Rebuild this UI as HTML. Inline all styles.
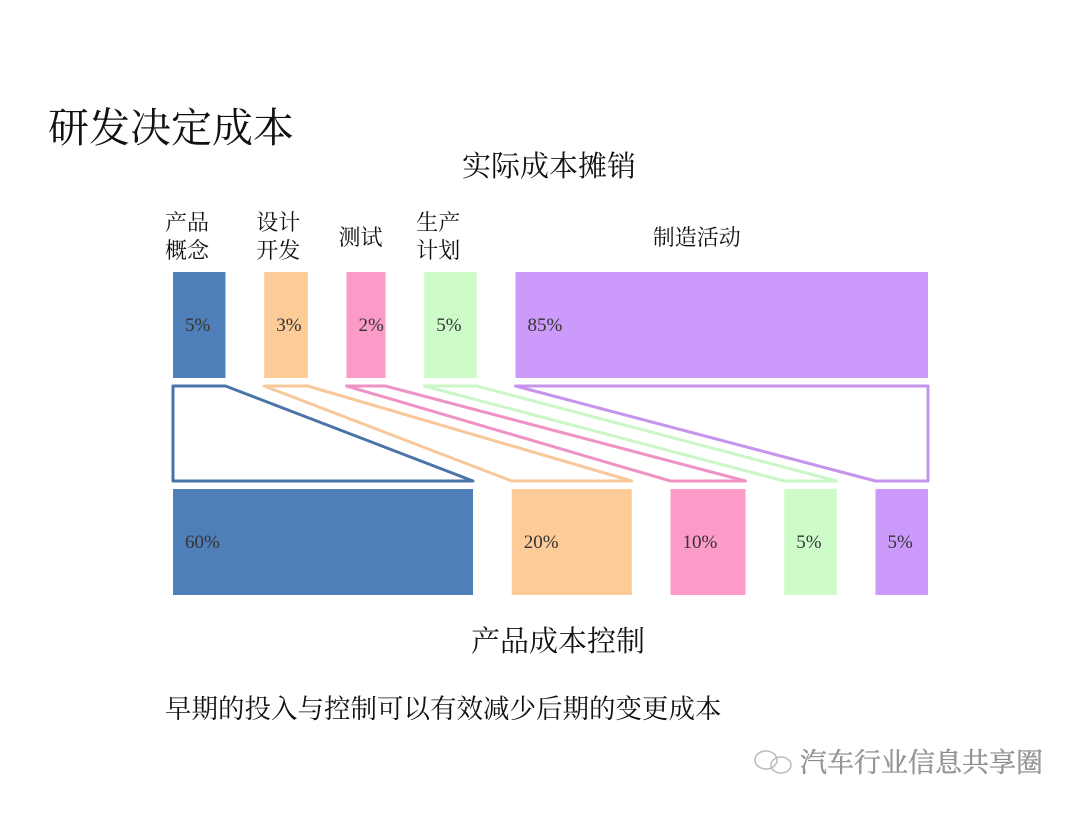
<!DOCTYPE html>
<html><head><meta charset="utf-8"><style>
body{margin:0;background:#fff;}
svg text{font-family:"Liberation Serif","Noto Serif CJK SC",serif;}
</style></head><body>
<svg width="1080" height="810" viewBox="0 0 1080 810">
<text x="48" y="142" font-size="41" fill="#111" font-family="Liberation Sans, Noto Sans CJK SC, sans-serif">研发决定成本</text>
<text x="549" y="176" font-size="29" text-anchor="middle" fill="#111">实际成本摊销</text>
<text x="558" y="651" font-size="29" text-anchor="middle" fill="#111">产品成本控制</text>
<text x="165" y="718" font-size="26.5" fill="#111">早期的投入与控制可以有效减少后期的变更成本</text>
<g fill="none" stroke="#bbb" stroke-width="1.5">
<ellipse cx="766" cy="760" rx="11" ry="9"/><ellipse cx="781" cy="765" rx="10" ry="8"/>
</g>
<text x="800" y="772" font-size="27" fill="#999" stroke="#777" stroke-width="0.3" font-family="Liberation Sans, Noto Sans CJK SC, sans-serif">汽车行业信息共享圈</text>
<g id="g"></g>
</svg>
<script>
const categories=[["产品","概念"],["设计","开发"],["测试"],["生产","计划"],["制造活动"]];
const topValues=[5,3,2,5,85];
const bottomValues=[60,20,10,5,5];
const colors=["#4f7fb8","#fccb98","#fc9ac8","#cdfcc9","#cc9afa"];
const strokes=["#4a74a8","#f9c89a","#ef92c4","#c9f7c6","#c694ec"];
const X0=173,X1=928,TY=272,BY=489,H=106;
function wScale(v){return 30+4.5*v;}
function layout(vals){const ws=vals.map(wScale);const tot=ws.reduce((a,b)=>a+b,0);const gap=(X1-X0-tot)/(vals.length-1);let x=X0;return ws.map(w=>{const r={x:x,w:w};x+=w+gap;return r;});}
const NS="http://www.w3.org/2000/svg",g=document.getElementById('g');
function mk(t,a){const e=document.createElementNS(NS,t);for(const k in a)e.setAttribute(k,a[k]);g.appendChild(e);return e;}
const T=layout(topValues),B=layout(bottomValues);
T.forEach((r,i)=>{
 const rc=mk('rect',{x:r.x,y:TY,width:r.w,height:H,fill:colors[i]});
 
 
 const t=mk('text',{x:r.x+12,y:TY+59,'font-size':19,fill:'#333'});t.textContent=topValues[i]+'%';
 
 
 const lines=categories[i];const cx=i==4?r.x+r.w/2-25:r.x+14;
 lines.forEach((s,j)=>{const l=mk('text',{x:cx,y:(lines.length==1?245:230)+j*28,'font-size':22,fill:'#111','text-anchor':'middle','font-family':'Liberation Sans, Noto Sans CJK SC, sans-serif'});l.textContent=s;
 
 });
});
B.forEach((r,i)=>{
 const rc=mk('rect',{x:r.x,y:BY,width:r.w,height:H,fill:colors[i]});
 
 
 const t=mk('text',{x:r.x+12,y:BY+59,'font-size':19,fill:'#333'});t.textContent=bottomValues[i]+'%';
 
 
 const a=T[i];
 const p=mk('polygon',{points:`${a.x},386 ${a.x+a.w},386 ${r.x+r.w},481 ${r.x},481`,fill:'none',stroke:strokes[i],'stroke-width':3,'stroke-linejoin':'round'});
 
 
});
</script>
</body></html>
